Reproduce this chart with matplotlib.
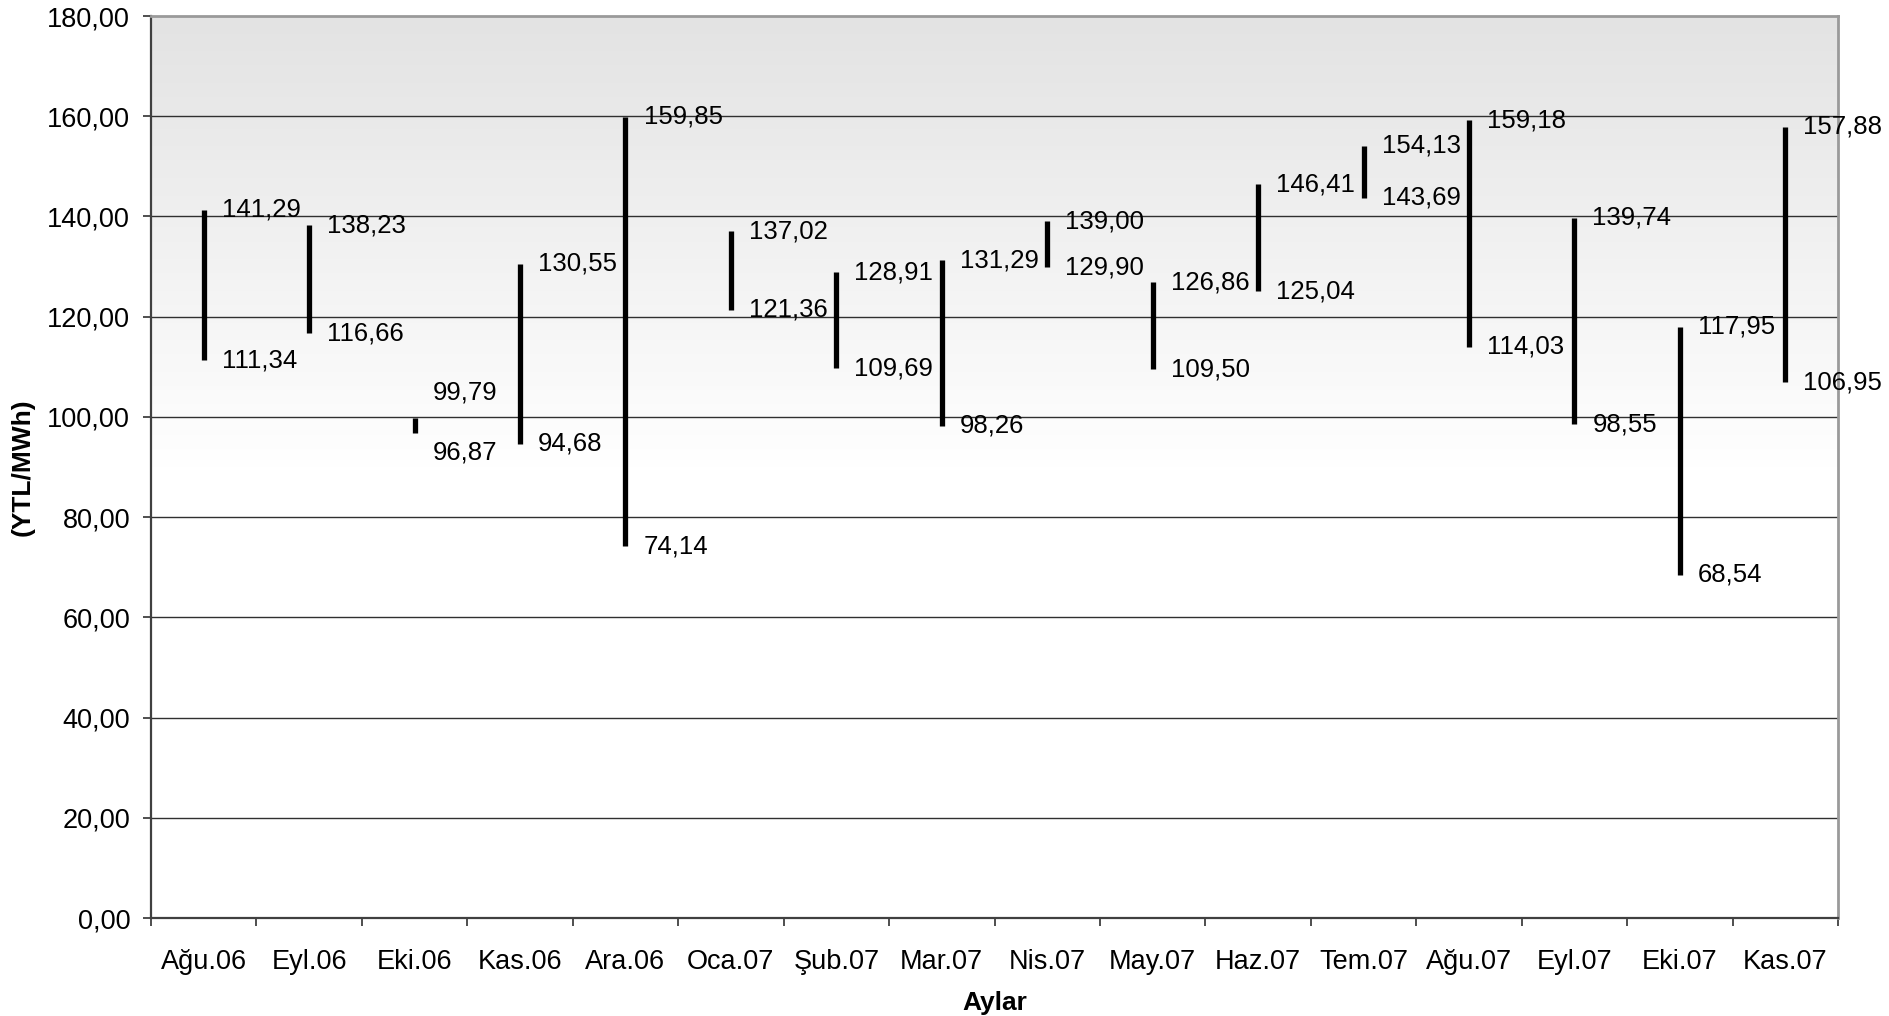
import numpy as np
import matplotlib
matplotlib.use("Agg")
import matplotlib.pyplot as plt
from matplotlib.ticker import FuncFormatter, FixedLocator
from matplotlib.colors import LinearSegmentedColormap

plt.rcParams['font.family'] = ['Liberation Sans', 'DejaVu Sans']

# aylar ve en yuksek / en dusuk degerler
aylar = ['Ağu.06', 'Eyl.06', 'Eki.06', 'Kas.06', 'Ara.06', 'Oca.07', 'Şub.07', 'Mar.07',
         'Nis.07', 'May.07', 'Haz.07', 'Tem.07', 'Ağu.07', 'Eyl.07', 'Eki.07', 'Kas.07']
yuksek = [141.29, 138.23, 99.79, 130.55, 159.85, 137.02, 128.91, 131.29,
          139.00, 126.86, 146.41, 154.13, 159.18, 139.74, 117.95, 157.88]
dusuk = [111.34, 116.66, 96.87, 94.68, 74.14, 121.36, 109.69, 98.26,
         129.90, 109.50, 125.04, 143.69, 114.03, 98.55, 68.54, 106.95]

def virgul(v, pos=None):
    return f"{v:.2f}".replace('.', ',')

fig = plt.figure(figsize=(18.89, 10.16), dpi=100)
ax = fig.add_axes([151 / 1889, 1 - 918 / 1016, (1838 - 151) / 1889, (918 - 16) / 1016])

# arka plan: ustte gri, altta beyaz
cmap = LinearSegmentedColormap.from_list('g', ['#ffffff', '#ffffff', '#e3e3e3'])
grad = np.linspace(0, 1, 256).reshape(-1, 1)
ax.imshow(grad, cmap=cmap, aspect='auto', origin='lower',
          extent=[-0.5, 15.5, 0, 180], zorder=0)

ax.set_xlim(-0.5, 15.5)
ax.set_ylim(0, 180)

for y in range(20, 180, 20):
    ax.axhline(y, color='#303030', lw=1.0, zorder=1)

x = np.arange(len(aylar))
ax.vlines(x, dusuk, yuksek, color='black', lw=3.8, zorder=3)

# etiketler (Eki.06 elle kaydirilmis)
kaydir = {2: (18, -14)}
for i in range(len(aylar)):
    dy_ust, dy_alt = kaydir.get(i, (0, 0))
    ax.annotate(virgul(yuksek[i]), (x[i], yuksek[i]), xytext=(13, dy_ust),
                textcoords='offset points', ha='left', va='center',
                fontsize=18.5, annotation_clip=False, zorder=4)
    ax.annotate(virgul(dusuk[i]), (x[i], dusuk[i]), xytext=(13, dy_alt),
                textcoords='offset points', ha='left', va='center',
                fontsize=18.5, annotation_clip=False, zorder=4)

ax.set_yticks(np.arange(0, 181, 20))
ax.yaxis.set_major_formatter(FuncFormatter(virgul))
ax.set_xticks(x)
ax.set_xticklabels(aylar)
ax.xaxis.set_minor_locator(FixedLocator(np.arange(-0.5, 16, 1)))
ax.tick_params(axis='x', which='major', length=0, pad=22, labelsize=19.5)
ax.tick_params(axis='x', which='minor', length=6, width=1.2, color='#303030')
ax.tick_params(axis='y', length=6, width=1.2, color='#303030', pad=9, labelsize=19.5)

for s in ['left', 'bottom']:
    ax.spines[s].set_color('#404040')
    ax.spines[s].set_linewidth(1.6)
for s in ['top', 'right']:
    ax.spines[s].set_color('#9a9a9a')
    ax.spines[s].set_linewidth(2.0)

ax.set_xlabel('Aylar', fontsize=19, fontweight='bold', labelpad=12)
ax.set_ylabel('(YTL/MWh)', fontsize=19, fontweight='bold', labelpad=9)

fig.savefig('out.png', dpi=100)
